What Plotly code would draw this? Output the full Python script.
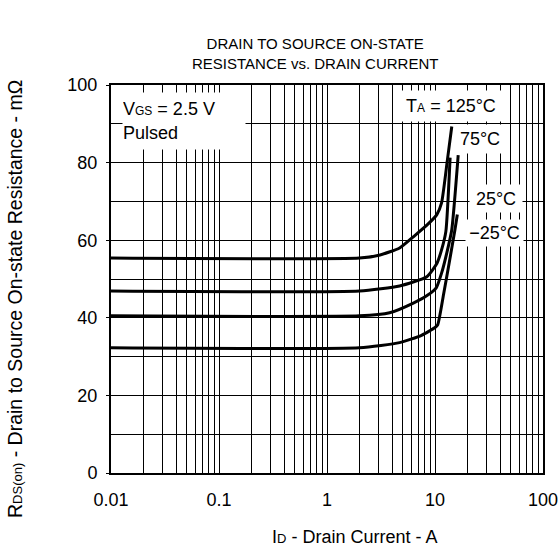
import plotly.graph_objects as go

# ---- data ----
i_125 = [0.01, 2.0, 3.1, 4.7, 6.5, 8.5, 10.4, 11.5, 13.0, 14.3]
r_125 = [55.4, 55.4, 56.2, 58.0, 61.2, 64.0, 66.6, 69.6, 80.5, 89.3]

i_75 = [0.01, 2.0, 4.7, 8.4, 10.4, 11.5, 12.6, 13.8]
r_75 = [46.9, 46.9, 48.2, 50.6, 54.0, 57.5, 62.2, 81.3]

i_25 = [0.01, 2.0, 3.8, 6.3, 8.5, 10.3, 11.5, 12.8, 14.3, 16.4]
r_25 = [40.5, 40.5, 41.3, 43.8, 45.8, 47.8, 51.5, 56.5, 62.7, 81.9]

i_m25 = [0.01, 2.0, 4.7, 7.5, 10.0, 10.6, 12.0, 13.5, 15.3, 16.1]
r_m25 = [32.3, 32.3, 33.6, 35.5, 37.5, 38.2, 46.0, 54.0, 62.7, 66.6]

x_ticks = [0.01, 0.1, 1, 10, 100]
x_ticktext = ["0.01", "0.1", "1", "10", "100"]
y_ticks = [0, 20, 40, 60, 80, 100]

FONT = "Liberation Sans, Arial, sans-serif"


def small(t, s=12):
    return "<span style='font-size:%dpx'>%s</span>" % (s, t)


fig = go.Figure()
for xs, ys in [(i_125, r_125), (i_75, r_75), (i_25, r_25), (i_m25, r_m25)]:
    fig.add_trace(go.Scatter(x=xs, y=ys, mode="lines",
                             line=dict(color="black", width=3, shape="spline", smoothing=0.5),
                             showlegend=False, hoverinfo="skip"))

minor_vals = [m * 10.0 ** e for e in range(-2, 2) for m in range(2, 10)]

fig.update_xaxes(type="log", range=[-2, 2], tickvals=x_ticks, ticktext=x_ticktext,
                 showgrid=True, gridcolor="black", gridwidth=1, automargin=False,
                 minor=dict(tickvals=minor_vals, showgrid=True, gridcolor="black", gridwidth=1, ticks=""),
                 showline=True, linecolor="black", linewidth=2, mirror=True,
                 ticks="", ticklabelstandoff=9,
                 tickfont=dict(family=FONT, size=18, color="black"), zeroline=False)
fig.update_yaxes(range=[0, 100], tickvals=y_ticks, automargin=False,
                 showgrid=False,
                 minor=dict(dtick=10, showgrid=True, gridcolor="black", gridwidth=1, ticks=""),
                 showline=True, linecolor="black", linewidth=2, mirror=True,
                 ticks="outside", ticklen=3, tickcolor="black", ticklabelstandoff=5,
                 tickfont=dict(family=FONT, size=18, color="black"), zeroline=False)

L, R, T, B = 111, 16, 85, 77
W, H = 559 - L - R, 550 - T - B


def px(xp):
    return (xp - L) / W


def py(yp):
    return (550 - B - yp) / H


annots = []
# label boxes (white background covers gridlines)
boxes = [
    ("V" + small("GS") + " = 2.5 V<br>Pulsed", 122, 92, 122, 56, "left"),
    ("T" + small("A") + " = 125°C", 397, 90, 106, 30, "center"),
    ("75°C", 455, 124, 48, 28, "center"),
    ("25°C", 469, 184, 52, 27, "center"),
    ("\u221225°C", 465, 219, 57, 26, "center"),
]
for text, x0, y0, w, h, al in boxes:
    annots.append(dict(text=text, xref="paper", yref="paper", x=px(x0), y=py(y0),
                       xanchor="left", yanchor="top", width=w, height=h, align=al, valign="middle",
                       bgcolor="white", borderpad=0, showarrow=False,
                       font=dict(family=FONT, size=18, color="black")))

annots.append(dict(text="DRAIN TO SOURCE ON-STATE<br>RESISTANCE vs. DRAIN CURRENT",
                   xref="paper", yref="paper", x=px(315), y=py(53), xanchor="center", yanchor="middle",
                   showarrow=False, font=dict(family=FONT, size=15, color="black")))
annots.append(dict(text="I" + small("D", 13) + " - Drain Current - A",
                   xref="paper", yref="paper", x=px(354), y=py(537), xanchor="center", yanchor="middle",
                   showarrow=False, font=dict(family=FONT, size=18, color="black")))
annots.append(dict(text="R" + small("DS(on)", 13) + " - Drain to Source On-state Resistance - m\u03a9",
                   xref="paper", yref="paper", x=px(15), y=py(299), xanchor="center", yanchor="middle",
                   textangle=-90, showarrow=False, font=dict(family=FONT, size=19.5, color="black")))

fig.update_layout(width=559, height=550, margin=dict(l=L, r=R, t=T, b=B, autoexpand=False),
                  paper_bgcolor="white", plot_bgcolor="white", annotations=annots,
                  font=dict(family=FONT, color="black"))

fig.write_html("out.html", config={"displayModeBar": False},
               post_script="document.body.style.margin='0';document.body.style.padding='0';")
